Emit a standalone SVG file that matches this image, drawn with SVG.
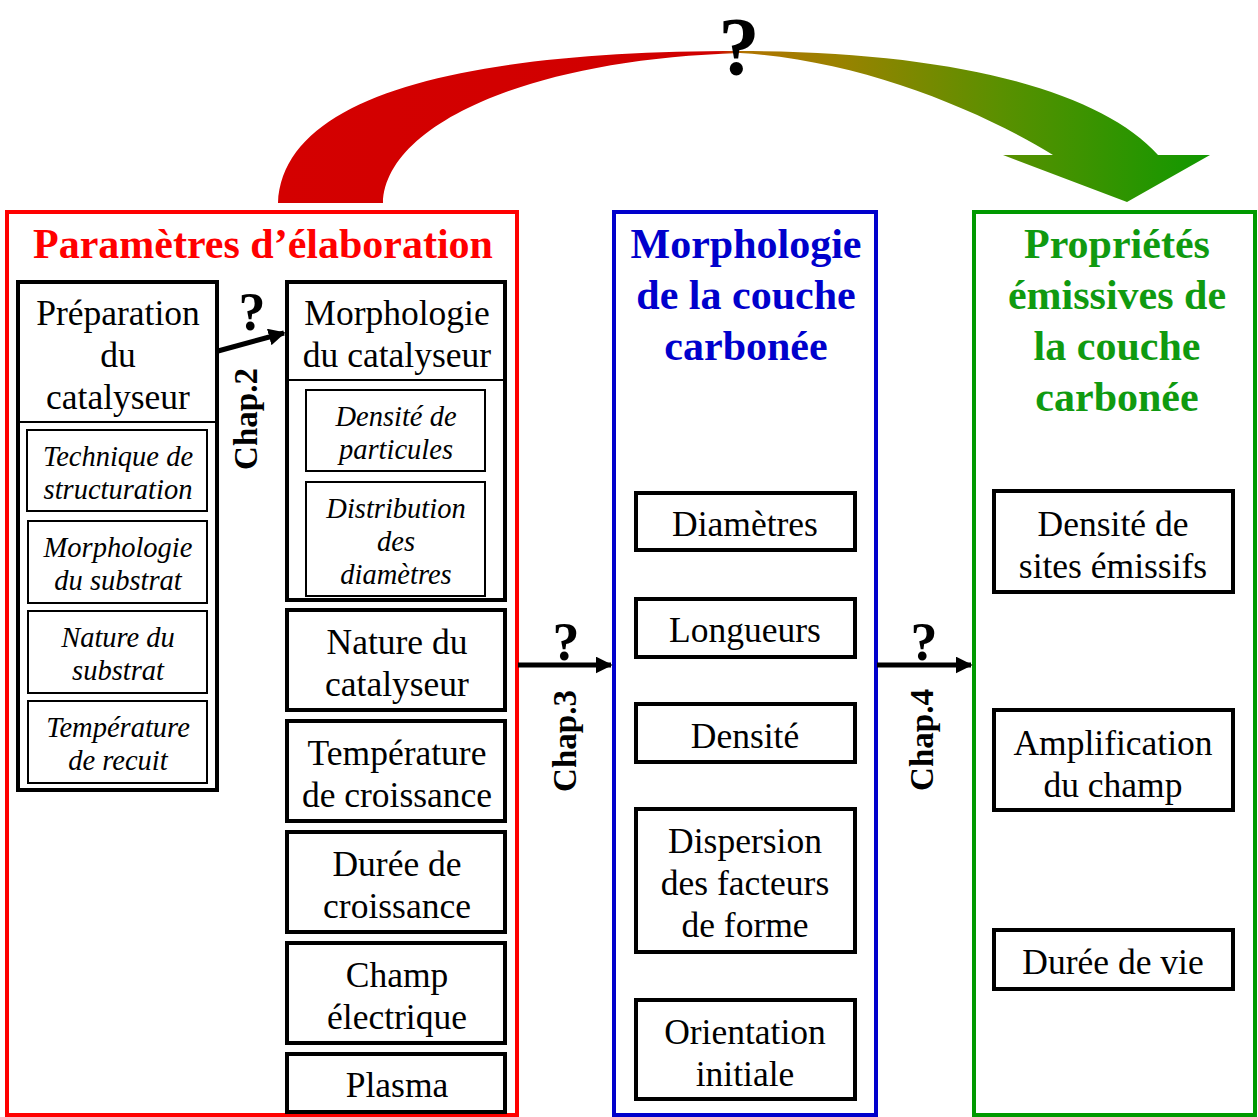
<svg xmlns="http://www.w3.org/2000/svg" width="1258" height="1117" viewBox="0 0 1258 1117">
<style>
.t{font-family:"Liberation Serif","Times New Roman",serif;text-anchor:middle;fill:#000}
.reg{font-size:35.5px}
.it{font-size:28.5px;font-style:italic}
.hd{font-size:42px;font-weight:bold}
.chap{font-size:33px;font-weight:bold}
.q{font-size:54px;font-weight:bold}
.box{fill:#fff;stroke:#000;stroke-width:4}
.sub{fill:#fff;stroke:#000;stroke-width:2}
.conn{stroke:#000;stroke-width:5;fill:none}
</style>
<defs>
<linearGradient id="grad" gradientUnits="userSpaceOnUse" x1="278" y1="0" x2="1210" y2="0">
<stop offset="0" stop-color="#d40000"/>
<stop offset="0.47" stop-color="#d00000"/>
<stop offset="0.5" stop-color="#b07400"/>
<stop offset="0.6" stop-color="#9a8200"/>
<stop offset="0.775" stop-color="#5a9000"/>
<stop offset="1" stop-color="#109800"/>
</linearGradient>
<marker id="ah" viewBox="0 0 10 10" refX="9" refY="5" markerWidth="3.4" markerHeight="3.4" orient="auto" markerUnits="strokeWidth">
<path d="M0,0 L10,5 L0,10 z" fill="#000"/>
</marker>
</defs>
<rect width="1258" height="1117" fill="#fff"/>

<!-- big curved arrow -->
<g id="big-arrow">
<path d="M278 203 C283 90 480 51 740 51 C950 51 1100 90 1158 155 L1210 155 L1127 202 L1003 155 L1053 155 C980 110 860 60 740 53 C520 60 385 128 383 203 Z" fill="url(#grad)"/>
<text class="t" x="739" y="74" style="font-size:82px;font-weight:bold">?</text>
</g>

<!-- containers -->
<g id="params">
<rect x="7" y="212" width="510" height="903" fill="none" stroke="#ff0000" stroke-width="4"/>
<text class="t hd" x="263" y="258" style="fill:#ff0000">Paramètres d’élaboration</text>
</g>
<g id="morpho-couche">
<rect x="614" y="212" width="262" height="903" fill="none" stroke="#0000cc" stroke-width="4"/>
<text class="t hd" x="746" y="258" style="fill:#0000cc">Morphologie</text>
<text class="t hd" x="746" y="309" style="fill:#0000cc">de la couche</text>
<text class="t hd" x="746" y="360" style="fill:#0000cc">carbonée</text>
</g>
<g id="proprietes">
<rect x="974" y="212" width="281" height="903" fill="none" stroke="#009900" stroke-width="4"/>
<text class="t hd" x="1117" y="258" style="fill:#109a10">Propriétés</text>
<text class="t hd" x="1117" y="309" style="fill:#109a10">émissives de</text>
<text class="t hd" x="1117" y="360" style="fill:#109a10">la couche</text>
<text class="t hd" x="1117" y="411" style="fill:#109a10">carbonée</text>
</g>

<!-- connectors -->
<g id="connectors">
<line class="conn" x1="218" y1="351" x2="284" y2="333" marker-end="url(#ah)"/>
<line class="conn" x1="518" y1="665" x2="611" y2="665" marker-end="url(#ah)"/>
<line class="conn" x1="877" y1="665" x2="971" y2="665" marker-end="url(#ah)"/>
<text class="t q" x="252" y="330">?</text>
<text class="t chap" transform="translate(257,419) rotate(-90)">Chap.2</text>
<text class="t q" x="566" y="660">?</text>
<text class="t chap" transform="translate(576,741) rotate(-90)">Chap.3</text>
<text class="t q" x="924" y="660">?</text>
<text class="t chap" transform="translate(933,740) rotate(-90)">Chap.4</text>
</g>

<!-- Préparation du catalyseur -->
<g id="preparation">
<rect class="box" x="18" y="282" width="199" height="508"/>
<line x1="18" y1="422" x2="217" y2="422" stroke="#000" stroke-width="2"/>
<text class="t reg" x="118" y="325">Préparation</text>
<text class="t reg" x="118" y="367">du</text>
<text class="t reg" x="118" y="409">catalyseur</text>
</g>
<g id="technique">
<rect class="sub" x="27" y="430" width="180" height="81"/>
<text class="t it" x="118" y="466">Technique de</text>
<text class="t it" x="118" y="499">structuration</text>
</g>
<g id="morpho-substrat">
<rect class="sub" x="28" y="521" width="179" height="82"/>
<text class="t it" x="118" y="557">Morphologie</text>
<text class="t it" x="118" y="590">du substrat</text>
</g>
<g id="nature-substrat">
<rect class="sub" x="28" y="611" width="179" height="82"/>
<text class="t it" x="118" y="647">Nature du</text>
<text class="t it" x="118" y="680">substrat</text>
</g>
<g id="temp-recuit">
<rect class="sub" x="28" y="701" width="179" height="82"/>
<text class="t it" x="118" y="737">Température</text>
<text class="t it" x="118" y="770">de recuit</text>
</g>

<!-- Morphologie du catalyseur -->
<g id="morpho-catalyseur">
<rect class="box" x="287" y="282" width="218" height="318"/>
<line x1="287" y1="380" x2="505" y2="380" stroke="#000" stroke-width="2"/>
<text class="t reg" x="397" y="325">Morphologie</text>
<text class="t reg" x="397" y="367">du catalyseur</text>
</g>
<g id="densite-particules">
<rect class="sub" x="306" y="390" width="179" height="81"/>
<text class="t it" x="396" y="426">Densité de</text>
<text class="t it" x="396" y="459">particules</text>
</g>
<g id="distribution">
<rect class="sub" x="306" y="482" width="179" height="114"/>
<text class="t it" x="396" y="518">Distribution</text>
<text class="t it" x="396" y="551">des</text>
<text class="t it" x="396" y="584">diamètres</text>
</g>
<g id="nature-catalyseur">
<rect class="box" x="287" y="610" width="218" height="100"/>
<text class="t reg" x="397" y="654">Nature du</text>
<text class="t reg" x="397" y="696">catalyseur</text>
</g>
<g id="temp-croissance">
<rect class="box" x="287" y="721" width="218" height="100"/>
<text class="t reg" x="397" y="765">Température</text>
<text class="t reg" x="397" y="807">de croissance</text>
</g>
<g id="duree-croissance">
<rect class="box" x="287" y="832" width="218" height="100"/>
<text class="t reg" x="397" y="876">Durée de</text>
<text class="t reg" x="397" y="918">croissance</text>
</g>
<g id="champ-electrique">
<rect class="box" x="287" y="943" width="218" height="100"/>
<text class="t reg" x="397" y="987">Champ</text>
<text class="t reg" x="397" y="1029">électrique</text>
</g>
<g id="plasma">
<rect class="box" x="287" y="1054" width="218" height="58"/>
<text class="t reg" x="397" y="1097">Plasma</text>
</g>

<!-- Morphologie column -->
<g id="diametres">
<rect class="box" x="636" y="493" width="219" height="57"/>
<text class="t reg" x="745" y="536">Diamètres</text>
</g>
<g id="longueurs">
<rect class="box" x="636" y="599" width="219" height="58"/>
<text class="t reg" x="745" y="642">Longueurs</text>
</g>
<g id="densite">
<rect class="box" x="636" y="704" width="219" height="58"/>
<text class="t reg" x="745" y="748">Densité</text>
</g>
<g id="dispersion">
<rect class="box" x="636" y="809" width="219" height="143"/>
<text class="t reg" x="745" y="853">Dispersion</text>
<text class="t reg" x="745" y="895">des facteurs</text>
<text class="t reg" x="745" y="937">de forme</text>
</g>
<g id="orientation">
<rect class="box" x="636" y="1000" width="219" height="99"/>
<text class="t reg" x="745" y="1044">Orientation</text>
<text class="t reg" x="745" y="1086">initiale</text>
</g>

<!-- Propriétés column -->
<g id="densite-sites">
<rect class="box" x="994" y="491" width="239" height="101"/>
<text class="t reg" x="1113" y="536">Densité de</text>
<text class="t reg" x="1113" y="578">sites émissifs</text>
</g>
<g id="amplification">
<rect class="box" x="994" y="710" width="239" height="100"/>
<text class="t reg" x="1113" y="755">Amplification</text>
<text class="t reg" x="1113" y="797">du champ</text>
</g>
<g id="duree-vie">
<rect class="box" x="994" y="930" width="239" height="59"/>
<text class="t reg" x="1113" y="974">Durée de vie</text>
</g>
</svg>
